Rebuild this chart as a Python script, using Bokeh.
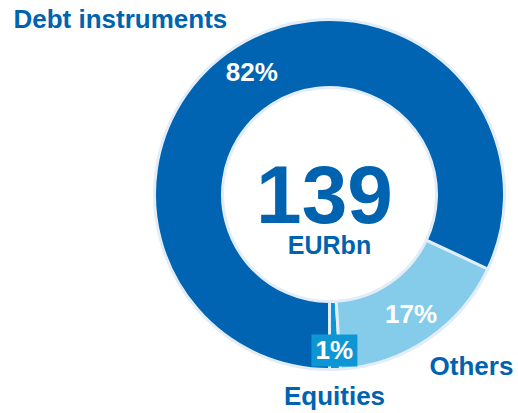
import numpy as np
from bokeh.plotting import figure
from bokeh.models import ColumnDataSource, Range1d
from bokeh.embed import file_html
from bokeh.resources import INLINE
from bokeh.core.properties import value

# ---- data ----
categories = ["Equities", "Others", "Debt instruments"]
shares = [1, 17, 82]
pct_labels = ["1%", "17%", "82%"]
total_value = "139"
unit_label = "EURbn"
colors = ["#0E96D4", "#84CCEA", "#0064B2"]

# ---- figure ----
W, H = 518, 413
p = figure(width=W, height=H, x_range=Range1d(0, W), y_range=Range1d(0, H),
           output_backend="svg", toolbar_location=None, min_border=0)
p.axis.visible = False
p.grid.visible = False
p.outline_line_color = None

FONT = value("Liberation Sans")
SHIFT = 0.347  # renderer places text this fraction of size below given y


def base(y, size):
    return y + SHIFT * size


cx, cy = 329, 219
r_out, r_in = 175, 107
frac = np.array(shares, dtype=float) / sum(shares)
cum = np.cumsum(frac)
start = -np.pi / 2 + 2 * np.pi * np.concatenate([[0.0], cum[:-1]])
end = -np.pi / 2 + 2 * np.pi * cum
mid = (start + end) / 2

src = ColumnDataSource(dict(cat=categories, start=start, end=end, color=colors))
p.annular_wedge(x=cx, y=cy, inner_radius=r_in, outer_radius=r_out,
                start_angle="start", end_angle="end", fill_color="color",
                line_color="#E2EDF8", line_width=3, source=src)

# percentage labels inside ring
lab_r = np.array([156, 145, 145])
lx = cx + lab_r * np.cos(mid)
ly = cy + lab_r * np.sin(mid)

# small-slice label box (Equities)
p.rect(x=[lx[0]], y=[ly[0]], width=46, height=32, fill_color=colors[0], line_color=None)

p.text(x=list(lx), y=list(ly), text=pct_labels, text_font=FONT,
       text_font_style="bold", text_font_size="26px", text_color="white",
       text_align="center", text_baseline="alphabetic")

# centre total
p.text(x=[324], y=[base(191, 82)], text=[total_value], text_font=FONT, text_font_style="bold",
       text_font_size="82px", text_color="#0063B0", text_align="center",
       text_baseline="alphabetic")
p.text(x=[329], y=[base(160, 25)], text=[unit_label], text_font=FONT, text_font_style="bold",
       text_font_size="25px", text_color="#0063B0", text_align="center",
       text_baseline="alphabetic")

# category labels
p.text(x=[13], y=[base(385, 26)], text=[categories[2]], text_font=FONT, text_font_style="bold",
       text_font_size="26px", text_color="#0063B0", text_align="left",
       text_baseline="alphabetic")
p.text(x=[471], y=[base(38, 26)], text=[categories[1]], text_font=FONT, text_font_style="bold",
       text_font_size="26px", text_color="#0063B0", text_align="center",
       text_baseline="alphabetic")
p.text(x=[334], y=[base(8, 26)], text=[categories[0]], text_font=FONT, text_font_style="bold",
       text_font_size="26px", text_color="#0063B0", text_align="center",
       text_baseline="alphabetic")

open("out.html", "w").write(file_html(p, INLINE))
